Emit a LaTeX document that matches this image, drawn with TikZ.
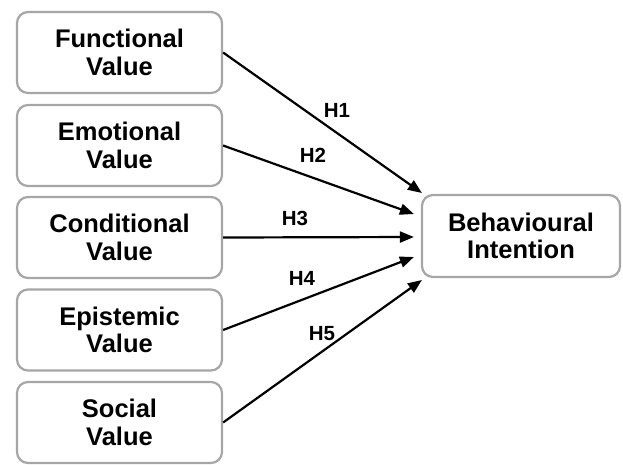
\documentclass[tikz,border=0pt]{standalone}
\usepackage{fontspec}
\setmainfont{Liberation Sans}
\usetikzlibrary{arrows.meta,calc}
\begin{document}
\begin{tikzpicture}[x=1pt,y=-1pt,
  box/.style={draw=black!35, line width=2.2pt, rounded corners=11pt, fill=white,
    minimum width=205pt, minimum height=81pt, align=center, inner sep=0pt,
    font=\fontsize{25.5}{27.5}\selectfont\bfseries},
  hyp/.style={font=\fontsize{20.5}{22}\selectfont\bfseries, inner sep=0pt},
  arr/.style={line width=2.2pt, -{Triangle[length=14pt,width=11pt]}}]
\useasboundingbox (0,0) rectangle (623,464);
\node[box] (f) at (119.5,52.5) {Functional\\Value};
\node[box] (e) at (119.5,145.5) {Emotional\\Value};
\node[box] (c) at (119.5,237.5) {Conditional\\Value};
\node[box] (p) at (119.5,330) {Epistemic\\Value};
\node[box] (s) at (119.5,422.5) {Social\\Value};
\node[box, minimum width=198pt, minimum height=82pt] (b) at (521,236) {Behavioural\\Intention};
\draw[arr] (f.east) -- ($(b.west)+(1,-43)$);
\draw[arr] (e.east) -- ($(b.west)+(-7,-22)$);
\draw[arr] (c.east) -- ($(b.west)+(-7,1)$);
\draw[arr] (p.east) -- ($(b.west)+(-7,21)$);
\draw[arr] (s.east) -- ($(b.west)+(1,44)$);
\node[hyp] (h1) at (337,110) {H1};
\node[hyp] (h2) at (313,155) {H2};
\node[hyp] (h3) at (295,218) {H3};
\node[hyp] (h4) at (302,278) {H4};
\node[hyp] (h5) at (322,334) {H5};
\end{tikzpicture}
\end{document}
